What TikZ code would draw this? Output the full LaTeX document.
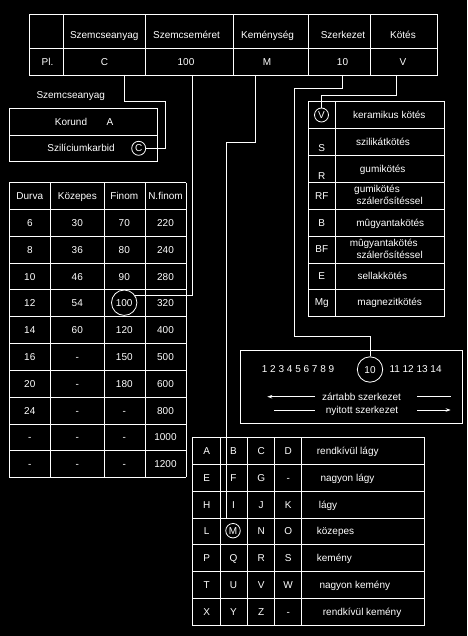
\documentclass[tikz,border=0pt]{standalone}
\usepackage{fontspec}
\setmainfont{Liberation Sans}
\usetikzlibrary{arrows.meta}
\begin{document}
\begin{tikzpicture}[x=1pt,y=-1pt,
  every node/.style={text=white,font=\fontsize{10}{12}\selectfont,inner sep=0pt,text height=7.2pt,text depth=0pt},
  grid/.style={draw=white,line width=0.9pt},
  conn/.style={draw=white,line width=0.9pt},
  ring/.style={circle,draw=white,line width=0.8pt,inner sep=0pt},
  tip/.style={-{Stealth[length=5pt,width=3.5pt]}}
  ]
\fill[black] (0,0) rectangle (467,636);
\useasboundingbox (0,0) rectangle (467,636);

% ---------- top table ----------
\draw[grid] (29.3,14.3) rectangle (437.3,75);
\draw[grid] (29.3,48.3) -- (437.3,48.3);
\foreach \x in {63.3,145.3,233.3,308.7,370} \draw[grid] (\x,14.3) -- (\x,75);
\node (h1) at (104.2,34.7) {Szemcseanyag};
\node (h2) at (186.5,34.7) {Szemcseméret};
\node (h3) at (267.5,34.7) {Keménység};
\node (h4) at (343,34.7) {Szerkezet};
\node (h5) at (403,34.7) {Kötés};
\node (v0) at (47.5,61.7) {Pl.};
\node (v1) at (104.5,61.7) {C};
\node (v2) at (186,61.7) {100};
\node (v3) at (267,61.7) {M};
\node (v4) at (342.5,61.7) {10};
\node (v5) at (403,61.7) {V};
\coordinate (tC) at (124.7,75);
\coordinate (t100) at (192.7,75);
\coordinate (tM) at (255,75);
\coordinate (t10) at (342.7,75);
\coordinate (tV) at (396,75);

% ---------- grain material ----------
\node (lab) at (70.7,95) {Szemcseanyag};
\draw[grid] (9.3,108.3) rectangle (157.3,161.3);
\draw[grid] (9.3,135) -- (157.3,135);
\node (kor) at (71,121.7) {Korund};
\node (korA) at (110,121.7) {A};
\node (szil) at (81,148.3) {Szilíciumkarbid};
\node[ring,minimum width=13pt,minimum height=14pt] (cC) at (138.7,148.3) {C};

% ---------- grain size table ----------
\foreach \x in {9.3,50.3,104.3,145.3,186.3} \draw[grid] (\x,182.7) -- (\x,477.3);
\foreach \y in {182.7,209.3,236.3,263.3,289.7,316.7,343.7,370.3,397.3,424.3,450.3,477.3}
  \draw[grid] (9.3,\y) -- (186.3,\y);
\node (g0a) at (29.8,196) {Durva};
\node (g0b) at (77.3,196) {Közepes};
\node (g0c) at (124.3,196) {Finom};
\node (g0d) at (165.5,196) {N.finom};
\foreach \a/\b/\c/\d/\y/\n in {6/30/70/220/222.8/1, 8/36/80/240/249.8/2, 10/46/90/280/276.5/3,
   12/54/{}/320/303.2/4, 14/60/120/400/330.2/5, 16/-/150/500/357/6, 20/-/180/600/383.8/7,
   24/-/-/800/410.8/8, -/-/-/1000/437.3/9, -/-/-/1200/463.8/10}{
  \node (ga\n) at (29.8,\y) {\a};
  \node (gb\n) at (77.3,\y) {\b};
  \node (gc\n) at (124.3,\y) {\c};
  \node (gd\n) at (165.5,\y) {\d};
}
\node[ring,minimum size=25.4pt] (c100) at (124.2,302.7) {100};

% ---------- bond table ----------
\draw[grid] (308.3,101.3) rectangle (444.3,316.7);
\draw[grid] (335.3,101.3) -- (335.3,316.7);
\foreach \y in {128.3,155.3,182.3,209.3,236.3,263.3,289.7} \draw[grid] (308.3,\y) -- (444.3,\y);
\node[ring,minimum width=13pt,minimum height=14pt] (cV) at (321.5,115) {V};
\node (bS) at (321.8,148.3) {S};
\node (bR) at (321.8,175.7) {R};
\node (bRF) at (321.8,195.8) {RF};
\node (bB) at (321.8,222.7) {B};
\node (bBF) at (321.8,249) {BF};
\node (bE) at (321.8,275.7) {E};
\node (bMg) at (321.8,302.3) {Mg};
\node (d1) at (389.3,115) {keramikus kötés};
\node (d2) at (383,141.7) {szilikátkötés};
\node (d3) at (382.7,169) {gumikötés};
\node (d4a) at (377,189) {gumikötés};
\node (d4b) at (389.7,201.3) {szálerősítéssel};
\node (d5) at (390.3,222.7) {mûgyantakötés};
\node (d6a) at (383.7,242.7) {mûgyantakötés};
\node (d6b) at (389.7,255.3) {szálerősítéssel};
\node (d7) at (382.3,275.7) {sellakkötés};
\node (d8) at (389.7,302.3) {magnezitkötés};

% ---------- structure box ----------
\draw[grid] (240.7,350.7) rectangle (462.3,423.3);
\node[anchor=west] (n1) at (261.7,369.3) {1 2 3 4 5 6 7 8 9};
\node[ring,minimum size=25.4pt] (c10) at (370,369.5) {10};
\node[anchor=west] (n2) at (389.3,369.3) {11 12 13 14};
\node (zs) at (361.5,396.7) {zártabb szerkezet};
\node (ny) at (362,410) {nyitott szerkezet};
\coordinate (a1s) at (315,396.7);
\coordinate (a1e) at (267.3,396.7);
\coordinate (a2s) at (417.3,396.7);
\coordinate (a2e) at (450.7,396.7);
\coordinate (b1s) at (274,410);
\coordinate (b1e) at (315,410);
\coordinate (b2s) at (417.3,410);
\coordinate (b2e) at (450.7,410);
\draw[conn,tip] (a1s) -- (a1e);
\draw[conn] (a2s) -- (a2e);
\draw[conn] (b1s) -- (b1e);
\draw[conn,tip] (b2s) -- (b2e);

% ---------- hardness table ----------
\draw[grid] (192.7,437.3) rectangle (424.3,625);
\foreach \x in {220.7,247.7,274.7,301.7} \draw[grid] (\x,437.3) -- (\x,625);
\foreach \y in {464.3,491.3,518.3,544.3,571.3,598.3} \draw[grid] (192.7,\y) -- (424.3,\y);
\foreach \a/\b/\c/\d/\y/\n/\dx/\t in {
  A/B/C/D/450.8/1/316.7/rendkívül lágy,
  E/F/G/-/477.8/2/320.3/nagyon lágy,
  H/I/J/K/504.8/3/318.7/lágy,
  L/{}/N/O/531.3/4/316.7/közepes,
  P/Q/R/S/557.8/5/316.7/kemény,
  T/U/V/W/584.8/6/319.3/nagyon kemény,
  X/Y/Z/-/611.7/7/322.7/rendkívül kemény}{
  \node (ka\n) at (206.7,\y) {\a};
  \node (kb\n) at (233.5,\y) {\b};
  \node (kc\n) at (261.2,\y) {\c};
  \node (kd\n) at (288.2,\y) {\d};
  \node[anchor=west] (kt\n) at (\dx,\y) {\t};
}
\node[ring,minimum width=13pt,minimum height=14.5pt] (cM) at (233,530.7) {M};
\coordinate (mEnd) at (226.7,518.3);

% ---------- connectors ----------
\draw[conn] (tC) |- (165,101) |- (cC.east);
\draw[conn] (t100) |- (c100.34);
\draw[conn] (tM) |- (226.7,142.3) -- (mEnd);
\draw[conn] (t10) |- (294.3,88) |- (370,336.7) -- (c10.north);
\draw[conn] (tV) |- (321.5,95) -- (cV.north);
\end{tikzpicture}
\end{document}
